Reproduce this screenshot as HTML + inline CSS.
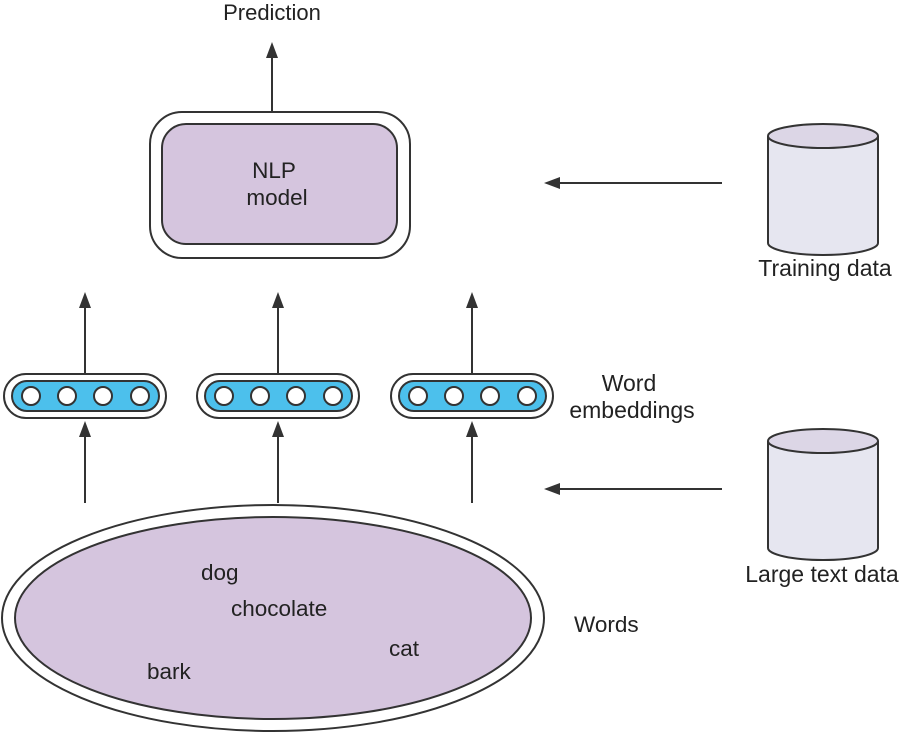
<!DOCTYPE html>
<html><head><meta charset="utf-8"><style>
html,body{margin:0;padding:0;background:#fff;}
svg{display:block;font-family:"Liberation Sans",Arial,sans-serif;}
</style></head><body>
<svg width="900" height="737" viewBox="0 0 900 737" xmlns="http://www.w3.org/2000/svg">
<text x="272" y="20" text-anchor="middle" font-size="22" fill="#222">Prediction</text>
<line x1="272" y1="111" x2="272" y2="55" stroke="#333" stroke-width="2"/>
<polygon points="272,42 266,58 278,58" fill="#333"/>
<rect x="150" y="112" width="260" height="146" rx="32" fill="#fff" stroke="#333" stroke-width="2"/>
<rect x="162" y="124" width="235" height="120" rx="24" fill="#d5c5de" stroke="#333" stroke-width="2"/>
<text x="274" y="178" text-anchor="middle" font-size="22.5" fill="#222">NLP</text>
<text x="277" y="205" text-anchor="middle" font-size="22.5" fill="#222">model</text>
<g stroke="#333" stroke-width="2">
<path d="M768,136 L768,243 A55,12 0 0 0 878,243 L878,136" fill="#e6e6f0"/>
<ellipse cx="823" cy="136" rx="55" ry="12" fill="#dcd6e6"/>
<path d="M768,441 L768,548 A55,12 0 0 0 878,548 L878,441" fill="#e6e6f0"/>
<ellipse cx="823" cy="441" rx="55" ry="12" fill="#dcd6e6"/>
</g>
<text x="825" y="276" text-anchor="middle" font-size="23" fill="#222">Training data</text>
<text x="822" y="582" text-anchor="middle" font-size="23" fill="#222">Large text data</text>
<line x1="722" y1="183" x2="558" y2="183" stroke="#333" stroke-width="2"/>
<polygon points="544,183 560,177 560,189" fill="#333"/>
<line x1="722" y1="489" x2="558" y2="489" stroke="#333" stroke-width="2"/>
<polygon points="544,489 560,483 560,495" fill="#333"/>
<g id="emb">
<rect x="4" y="374" width="162" height="44" rx="22" fill="#fff" stroke="#333" stroke-width="2"/>
<rect x="12" y="381" width="147" height="30" rx="15" fill="#4cc0ec" stroke="#333" stroke-width="2"/>
<circle cx="31" cy="396" r="9" fill="#fff" stroke="#333" stroke-width="2"/>
<circle cx="67" cy="396" r="9" fill="#fff" stroke="#333" stroke-width="2"/>
<circle cx="103" cy="396" r="9" fill="#fff" stroke="#333" stroke-width="2"/>
<circle cx="140" cy="396" r="9" fill="#fff" stroke="#333" stroke-width="2"/>
<line x1="85" y1="374" x2="85" y2="305" stroke="#333" stroke-width="2"/>
<polygon points="85,292 79,308 91,308" fill="#333"/>
<line x1="85" y1="503" x2="85" y2="434" stroke="#333" stroke-width="2"/>
<polygon points="85,421 79,437 91,437" fill="#333"/>
</g>
<use href="#emb" x="193"/>
<use href="#emb" x="387"/>
<text x="629" y="391" text-anchor="middle" font-size="23" fill="#222">Word</text>
<text x="632" y="418" text-anchor="middle" font-size="23" fill="#222">embeddings</text>
<ellipse cx="273" cy="618" rx="271" ry="113" fill="#fff" stroke="#333" stroke-width="2"/>
<ellipse cx="273" cy="618" rx="258" ry="101" fill="#d5c5de" stroke="#333" stroke-width="2"/>
<g font-size="22.5" fill="#222">
<text x="201" y="580">dog</text>
<text x="231" y="616">chocolate</text>
<text x="389" y="656">cat</text>
<text x="147" y="679">bark</text>
<text x="574" y="632">Words</text>
</g>
</svg>
</body></html>
